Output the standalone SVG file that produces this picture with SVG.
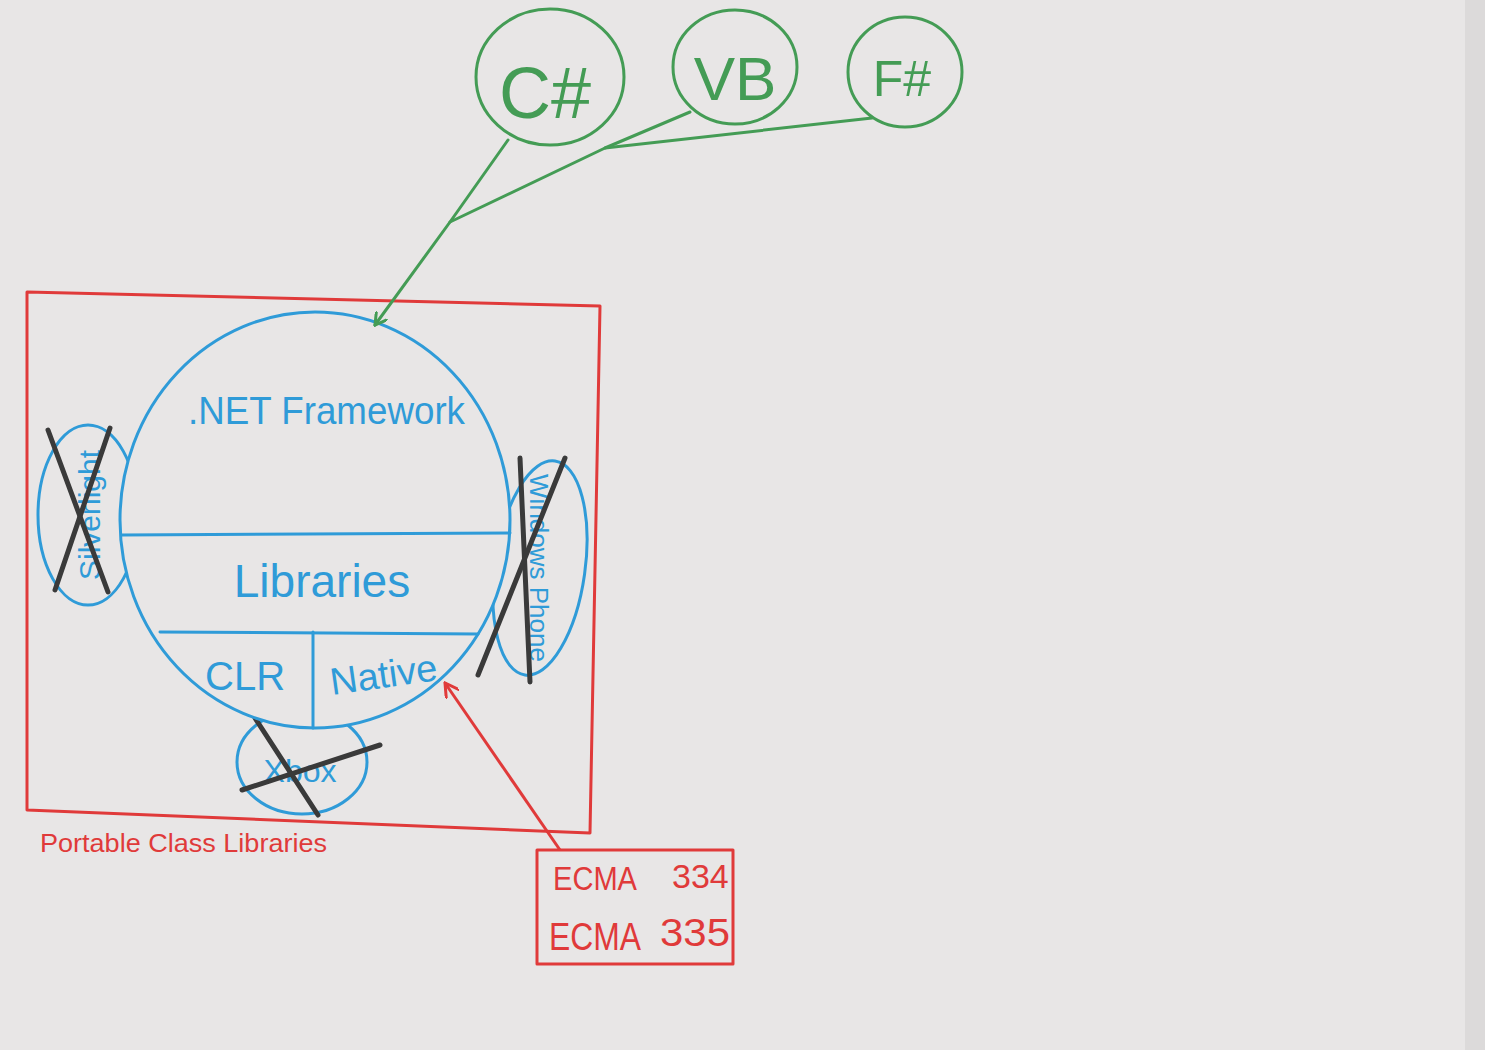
<svg xmlns="http://www.w3.org/2000/svg" width="1485" height="1050" viewBox="0 0 1485 1050">
<style>
.g{fill:none;stroke:#449c55;stroke-width:3;stroke-linecap:round;stroke-linejoin:round}
.b{fill:none;stroke:#2f9bd8;stroke-width:3;stroke-linecap:round}
.r{fill:none;stroke:#e03a3a;stroke-width:3;stroke-linejoin:round}
.k{stroke:#3a3a3a;stroke-width:5;stroke-linecap:round}
.tg{fill:#449c55;font-family:"Liberation Sans",sans-serif}
.tb{fill:#2f9bd8;font-family:"Liberation Sans",sans-serif}
.tr{fill:#e03a3a;font-family:"Liberation Sans",sans-serif}
</style>
<defs>
<marker id="ag" markerWidth="14" markerHeight="14" refX="12" refY="7" orient="auto" markerUnits="userSpaceOnUse"><path d="M0,0 L12,7 L0,14" fill="none" stroke="#449c55" stroke-width="3"/></marker>
<marker id="ar" markerWidth="16" markerHeight="16" refX="14" refY="8" orient="auto" markerUnits="userSpaceOnUse"><path d="M0,0 L14,8 L0,16" fill="none" stroke="#e03a3a" stroke-width="3"/></marker>
</defs>
<rect width="1485" height="1050" fill="#e8e6e6"/>
<rect x="1465" y="0" width="20" height="1050" fill="#dcdada"/>

<g id="csharp"><ellipse class="g" cx="550" cy="77" rx="74" ry="68"/><text class="tg" x="545" y="118" font-size="72" text-anchor="middle">C#</text></g>
<g id="vb"><ellipse class="g" cx="735" cy="67" rx="62" ry="57"/><text class="tg" x="735" y="100" font-size="62" text-anchor="middle">VB</text></g>
<g id="fsharp"><ellipse class="g" cx="905" cy="72" rx="57" ry="55"/><text class="tg" x="902" y="96" font-size="50" text-anchor="middle">F#</text></g>

<g id="pcl">
<polygon class="r" points="27,292 600,306 590,833 27,810"/>
<text class="tr" x="40" y="852" font-size="26" textLength="287" lengthAdjust="spacingAndGlyphs">Portable Class Libraries</text>
</g>

<g id="silverlight">
<ellipse class="b" cx="88" cy="515" rx="50" ry="90"/>
<text class="tb" transform="translate(100,515) rotate(-90)" font-size="30" text-anchor="middle">Silverlight</text>
<line class="k" x1="48" y1="430" x2="108" y2="592"/><line class="k" x1="110" y1="428" x2="55" y2="590"/>
</g>

<g id="windowsphone">
<ellipse class="b" cx="540" cy="568" rx="45" ry="108" transform="rotate(8 540 568)"/>
<text class="tb" transform="translate(530,568) rotate(90)" font-size="26" text-anchor="middle">Windows Phone</text>
<line class="k" x1="520" y1="458" x2="530" y2="682"/><line class="k" x1="565" y1="458" x2="478" y2="675"/>
</g>

<g id="xbox">
<ellipse class="b" cx="302" cy="762" rx="65" ry="52"/>
<text class="tb" x="300" y="782" font-size="32" text-anchor="middle">Xbox</text>
<line class="k" x1="255" y1="718" x2="318" y2="815"/><line class="k" x1="242" y1="790" x2="380" y2="745"/>
</g>

<g id="netframework">
<ellipse class="b" cx="315" cy="520" rx="195" ry="208" style="fill:#e8e6e6"/>
<line class="b" x1="122" y1="535" x2="510" y2="533"/>
<line class="b" x1="160" y1="632" x2="478" y2="634"/>
<line class="b" x1="313" y1="632" x2="313" y2="728"/>
<text class="tb" x="188" y="424" font-size="38" textLength="277" lengthAdjust="spacingAndGlyphs">.NET Framework</text>
<text class="tb" x="322" y="597" font-size="46" text-anchor="middle">Libraries</text>
<text class="tb" x="205" y="690" font-size="40">CLR</text>
<text class="tb" x="332" y="695" font-size="38" transform="rotate(-8 332 695)">Native</text>
</g>

<g id="ecma">
<rect class="r" x="537" y="850" width="196" height="114"/>
<text class="tr" x="553" y="890" font-size="34" textLength="84" lengthAdjust="spacingAndGlyphs">ECMA</text>
<text class="tr" x="672" y="888" font-size="34">334</text>
<text class="tr" x="549" y="950" font-size="38" textLength="92" lengthAdjust="spacingAndGlyphs">ECMA</text>
<text class="tr" x="660" y="946" font-size="38" textLength="70" lengthAdjust="spacingAndGlyphs">335</text>
</g>

<g id="connectors">
<path class="g" d="M508,140 L450,222 L375,325" marker-end="url(#ag)"/>
<path class="g" d="M690,112 L605,148 L450,222"/>
<path class="g" d="M872,118 L605,148"/>
<path class="r" d="M560,850 L445,683" marker-end="url(#ar)"/>
</g>
</svg>
